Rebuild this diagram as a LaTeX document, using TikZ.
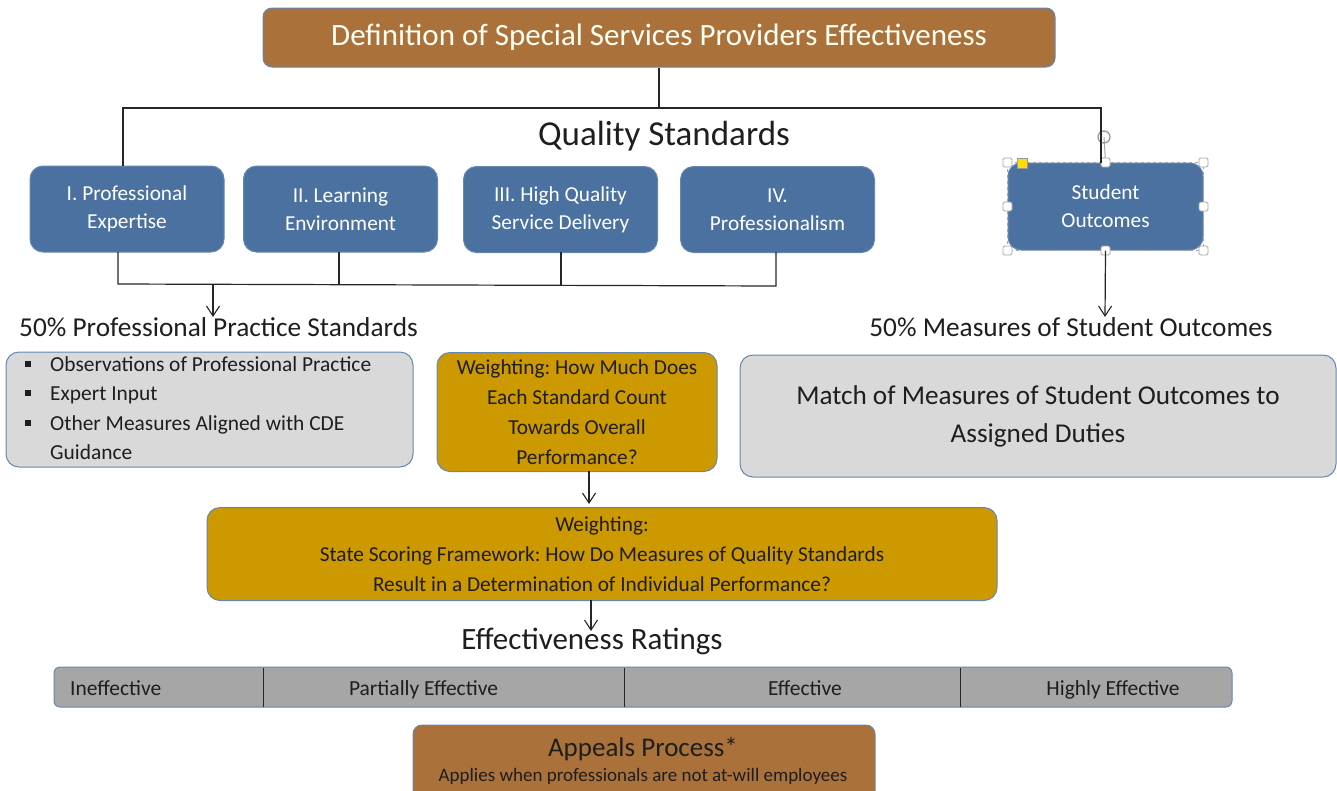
\documentclass[tikz,border=0pt]{standalone}
\usepackage{fontspec}
\setmainfont{Carlito}
\usetikzlibrary{arrows.meta,calc}
\definecolor{bluebox}{RGB}{74,113,160}
\definecolor{brownbox}{RGB}{170,113,58}
\definecolor{goldbox}{RGB}{204,153,0}
\definecolor{lgrey}{RGB}{217,217,217}
\definecolor{dgrey}{RGB}{166,166,166}
\definecolor{edge}{RGB}{100,135,180}
\definecolor{txt}{RGB}{30,30,30}
\newcommand{\sqbul}{\makebox[25pt][l]{\rule[4.5pt]{6pt}{6pt}}}
\frenchspacing
\tikzset{
  box/.style={rounded corners=13pt, draw=edge, line width=1pt, inner sep=0pt, align=center, text=txt},
  bluestd/.style={box, fill=bluebox, text=white, minimum width=194pt, minimum height=86pt, font=\fontsize{21.3}{28}\selectfont},
  conn/.style={line width=1.2pt, draw=black!85},
  arr/.style={conn, -{Straight Barb[length=10pt,width=13pt,line width=1.1pt]}},
  lbl/.style={inner sep=0pt, text=txt},
  rate/.style={lbl, anchor=base, font=\fontsize{21.5}{24}\selectfont},
  handle/.style={draw=black!35, fill=white, line width=0.8pt, rounded corners=1.5pt}
}
\begin{document}
\begin{tikzpicture}[x=1pt,y=-1pt]
\useasboundingbox (0,0) rectangle (1337,790);
% title
\node[box, fill=brownbox, text=white!95!yellow, minimum width=792pt, minimum height=59pt, rounded corners=9pt, font=\fontsize{31}{34}\selectfont] (title) at (659,37.5) {Definition of Special Services Providers Effectiveness};
\node[lbl, font=\fontsize{35}{38}\selectfont] (qs) at (664,136) {Quality Standards};
% standards
\node[bluestd] (s1) at (127,209) {I. Professional\\Expertise};
\node[bluestd] (s2) at (340.5,209) {II. Learning\\Environment};
\node[bluestd] (s3) at (560.5,209.5) {III. High Quality\\Service Delivery};
\node[bluestd] (s4) at (777.5,209.5) {IV.\\Professionalism};
\node[bluestd, minimum width=195pt, minimum height=87pt] (so) at (1105.5,206.5) {Student\\Outcomes};
% selection handles around Student Outcomes
\draw[black!35, dashed, line width=0.7pt] (so.north west) rectangle (so.south east);
\coordinate (rot) at (1104,137);
\draw[black!35, line width=1pt] (so.north) -- (rot);
\draw[black!40, line width=1.3pt] (rot) circle (6pt);
\foreach \a in {north west,north,north east,west,east,south west,south,south east}
  \draw[handle] ($(so.\a)+(-4.5,-4.5)$) rectangle ($(so.\a)+(4.5,4.5)$);
\draw[draw=black!40, fill=yellow!80!orange, line width=0.6pt] (1017,158) rectangle (1027,168);
% top connectors
\coordinate (tj) at (659,108);
\draw[conn] (title.south) -- (tj);
\draw[conn] (123,166) -- (123,108) -- (1101,108) -- (1101,163);
% bottom connectors
\coordinate (b1) at (118,284);
\coordinate (b4) at (776,286);
\draw[conn] (118,252) -- (b1) -- (b4) -- (776,252);
\draw[conn] (339,252) -- (339,284.5);
\draw[conn] (561,252) -- (561,285);
\coordinate (pa) at (213,285);
\node[lbl, font=\fontsize{27.3}{30}\selectfont] (pps) at (218.5,327) {50\% Professional Practice Standards};
\draw[arr] (pa) -- (213,317);
\node[lbl, font=\fontsize{27.3}{30}\selectfont] (mso) at (1071,327) {50\% Measures of Student Outcomes};
\draw[arr] (so.south) -- (1105,317);
% second row
\node[box, fill=lgrey, minimum width=407pt, minimum height=115pt] (obs) at (209.5,409.5) {};
\node[lbl, anchor=north west, align=left, font=\fontsize{21.4}{29.5}\selectfont] (obst) at (25,356) {\sqbul Observations of Professional Practice\\\sqbul Expert Input\\\sqbul Other Measures Aligned with CDE\\\hspace*{25pt}Guidance};
\node[box, fill=goldbox, minimum width=280pt, minimum height=119pt, font=\fontsize{21.3}{30}\selectfont] (w1) at (577,412) {Weighting: How Much Does\\Each Standard Count\\Towards Overall\\Performance?};
\node[box, fill=lgrey, minimum width=596pt, minimum height=122pt, font=\fontsize{27.2}{38}\selectfont] (match) at (1038,416) {Match of Measures of Student Outcomes to\\Assigned Duties};
% weighting framework
\node[box, fill=goldbox, minimum width=790pt, minimum height=93pt, font=\fontsize{21.3}{30}\selectfont] (w2) at (602,554) {Weighting:\\State Scoring Framework: How Do Measures of Quality Standards\\Result in a Determination of Individual Performance?};
\draw[arr] (589,471) -- (589,504);
\node[lbl, font=\fontsize{31}{34}\selectfont] (er) at (592,641) {Effectiveness Ratings};
\draw[arr] (591,600) -- (591,631);
% ratings bar
\node[box, fill=dgrey, rounded corners=6pt, minimum width=1178pt, minimum height=40pt] (bar) at (643,687) {};
\draw[conn, line width=1pt] (263,667.5) -- (263,706.5);
\draw[conn, line width=1pt] (624,667.5) -- (624,706.5);
\draw[conn, line width=1pt] (960,667.5) -- (960,706.5);
\node[rate, anchor=base west] (r1) at (70,695) {Ineffective};
\node[rate] (r2) at (423.5,695) {Partially Effective};
\node[rate] (r3) at (805,695) {Effective};
\node[rate] (r4) at (1113,695) {Highly Effective};
% appeals
\node[box, fill=brownbox, rounded corners=9pt, minimum width=462pt, minimum height=80pt] (ap) at (644,765) {};
\node[lbl, anchor=base, font=\fontsize{27}{30}\selectfont] (apt) at (643,756) {Appeals Process*};
\node[lbl, anchor=base, font=\fontsize{19}{22}\selectfont] (aps) at (643,781) {Applies when professionals are not at-will employees};
\end{tikzpicture}
\end{document}
